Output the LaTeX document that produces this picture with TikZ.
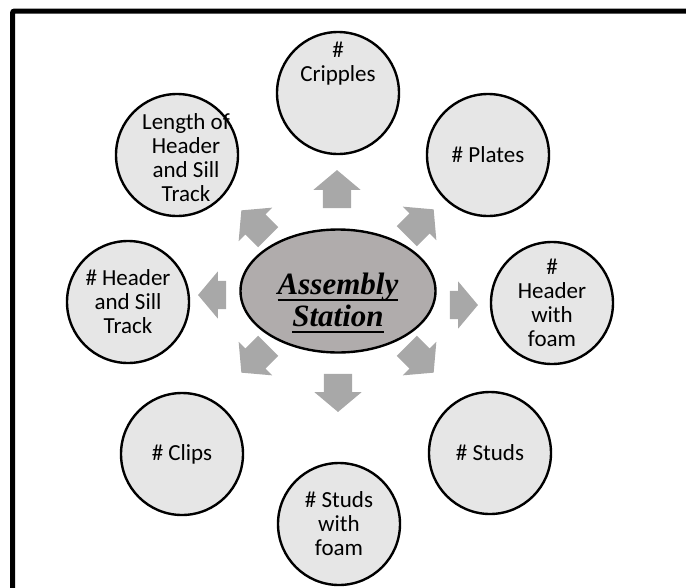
\documentclass[tikz,border=0pt]{standalone}
\usepackage{fontspec}
\setmainfont{Liberation Serif}
\newfontfamily\calibri{Carlito}
\usetikzlibrary{shapes.geometric,shapes.arrows}
\definecolor{bubblegray}{RGB}{230,230,230}
\definecolor{hubgray}{RGB}{176,172,172}
\definecolor{arrowgray}{RGB}{168,168,168}
% underline at a fixed depth, through the descenders
\newcommand\baseul[1]{\setbox0\hbox{#1}\rlap{\rule[-6pt]{\wd0}{2.2pt}}\box0}

\begin{document}
\begin{tikzpicture}[x=1pt,y=-1pt,
  bubble/.style={circle,draw,line width=2.4pt,fill=bubblegray,minimum size=122pt,
    inner sep=0pt,align=center,font=\calibri\fontsize{23}{24}\selectfont},
  bubbletext/.style={align=center,inner sep=0pt,font=\calibri\fontsize{23}{24}\selectfont},
  hub/.style={ellipse,draw,line width=2.4pt,fill=hubgray,minimum width=195pt,
    minimum height=123pt,inner sep=0pt},
  hubtext/.style={align=center,inner sep=0pt,
    font=\bfseries\itshape\fontsize{31}{32}\selectfont},
  blockarrow/.style={single arrow,fill=arrowgray,inner sep=0pt,
    text height=14pt,text depth=14pt,text width=0pt,
    single arrow head extend=9.5pt,single arrow tip angle=100,
    minimum height=#1},
  blockarrow/.default=38pt]

\useasboundingbox (0,0) rectangle (686,587);
\clip (0,0) rectangle (686,587);

% frame
\draw[line width=5pt,rounded corners=2pt] (12.5,11) rectangle (720,620);

% hub
\node[hub] (station) at (338,291) {};
\node[hubtext] (stationtext) at (338,303) {\baseul{Assembly}\\\baseul{Station}};

% bubbles
\node[bubble] (cripples) at (338,93) {};
\node[bubbletext] (cripplestext) at (338,64) {\#\\Cripples};
\node[bubble] (plates) at (488,155) {\# Plates};
\node[bubble] (headerfoam) at (552,303) {\#\\Header\\with\\foam};
\node[bubble] (studs) at (490,453) {\# Studs};
\node[bubble] (studsfoam) at (339,524) {\# Studs\\with\\foam};
\node[bubble] (clips) at (182,454) {\# Clips};
\node[bubble] (headersill) at (128,302) {\# Header\\and Sill\\Track};
\node[bubble] (length) at (177,155) {};
\node[bubbletext] (lengthtext) at (186,158) {Length of\\Header\\and Sill\\Track};

% arrows
\foreach \ang/\x/\y/\len [count=\i] in
  {90/337/195/38pt,0/458/305/28pt,135/259/228/38pt,45/416/227/38pt,
   180/218/295/28pt,225/259/355/38pt,315/416/355/38pt,270/338/387/38pt}
  \node[blockarrow=\len,rotate=\ang] (arrow\i) at (\x,\y) {};

\end{tikzpicture}
\end{document}
